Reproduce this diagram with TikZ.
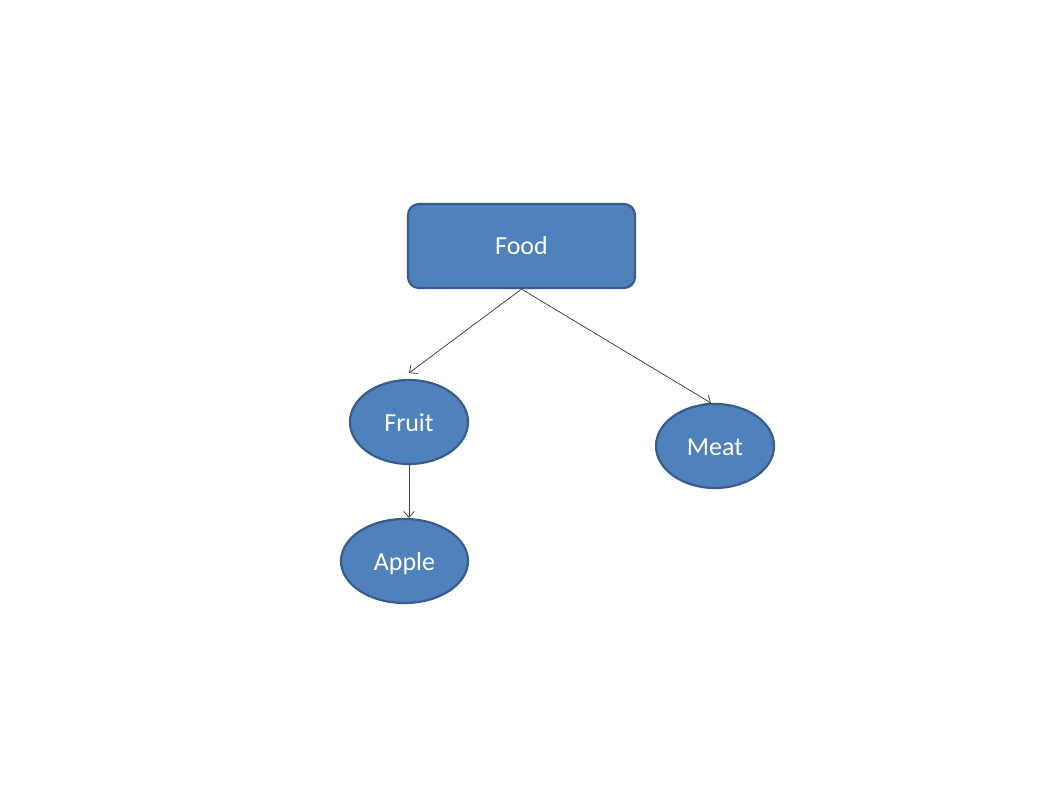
\documentclass[tikz,border=0pt]{standalone}
\usepackage{fontspec}
\setmainfont{Carlito}
\usetikzlibrary{arrows.meta,shapes.geometric}
\definecolor{boxfill}{HTML}{4F81BD}
\definecolor{boxline}{HTML}{385D8A}
\definecolor{conn}{HTML}{404040}
\begin{document}
\begin{tikzpicture}[x=1pt,y=-1pt,
  base/.style={fill=boxfill,draw=boxline,line width=2.2pt,text=white,font=\fontsize{26}{30}\selectfont,inner sep=0pt,text height=20pt,text depth=2pt},
  rbox/.style={base,rectangle,rounded corners=11pt,minimum width=227pt,minimum height=84pt},
  oval/.style={base,ellipse,minimum height=84pt},
  conn/.style={draw=conn,line width=0.75pt,-{Straight Barb[length=6pt,width=11pt]}}]
\path[use as bounding box,fill=white] (0,0) rectangle (1058,794);
\node[rbox] (food) at (521.5,246) {Food};
\node[oval,minimum width=118pt] (fruit) at (409,422) {Fruit};
\node[oval,minimum width=118pt] (meat) at (715,446) {Meat};
\node[oval,minimum width=127pt] (apple) at (404.5,561) {Apple};
\coordinate (fruitin) at (409,373);
\coordinate (meatin) at (711,403);
\draw[conn] (food.south) -- (fruitin);
\draw[conn] (food.south) -- (meatin);
\draw[conn] (fruit.south) -- (fruit.south |- apple.north);
\end{tikzpicture}
\end{document}
